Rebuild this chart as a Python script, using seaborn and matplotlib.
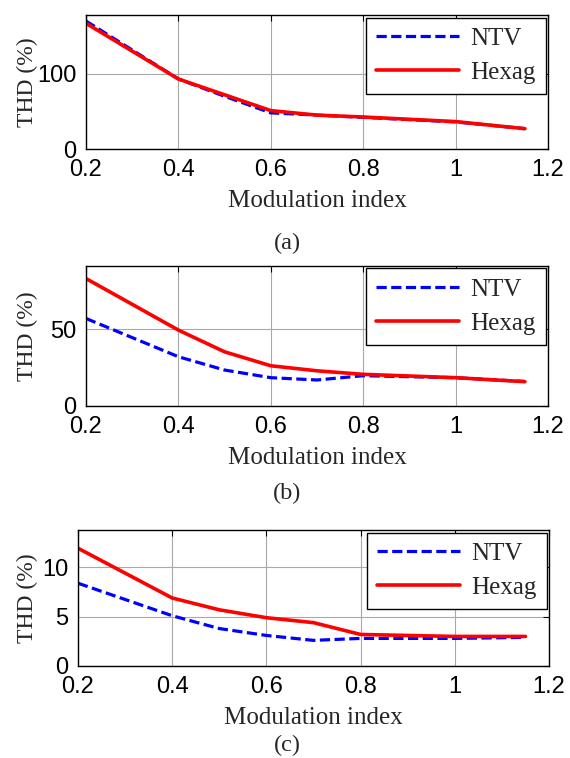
import numpy as np
import pandas as pd
import matplotlib
matplotlib.use('Agg')
import matplotlib.pyplot as plt
import seaborn as sns

# Modulation index sample points
m_index = [0.2, 0.4, 0.5, 0.6, 0.7, 0.8, 1.0, 1.15]

# THD values (%)
ntv_a = [170, 93, 70, 48, 45, 42, 36, 27]
hex_a = [167, 93, 72, 51, 45, 42.5, 36.4, 27]

ntv_b = [57.2, 32.2, 23.5, 18.5, 17.0, 19.8, 18.5, 16.0]
hex_b = [83.3, 49.6, 35.4, 26.3, 23.0, 20.7, 18.5, 15.9]

ntv_c = [8.4, 5.1, 3.8, 3.1, 2.6, 2.8, 2.8, 2.9]
hex_c = [11.95, 6.9, 5.7, 4.9, 4.4, 3.2, 3.0, 3.0]

xticks = [0.2, 0.4, 0.6, 0.8, 1.0, 1.2]
xticklabels = ['0.2', '0.4', '0.6', '0.8', '1', '1.2']

W, H = 570, 758

# axes boxes in pixels: left, right, top, bottom
panels = [
    dict(ntv=ntv_a, hexag=hex_a, ylim=(0, 178), yticks=[0, 100], cap='(a)',
         box=(86, 548, 15, 149), cap_y=243),
    dict(ntv=ntv_b, hexag=hex_b, ylim=(0, 91.5), yticks=[0, 50], cap='(b)',
         box=(86, 548, 266, 406), cap_y=493),
    dict(ntv=ntv_c, hexag=hex_c, ylim=(0, 13.8), yticks=[0, 5, 10], cap='(c)',
         box=(78, 549, 530, 666), cap_y=745),
]

sns.set_style('white')
plt.rcParams['font.family'] = ['Liberation Serif', 'DejaVu Serif']

serif = 'Liberation Serif'
sans = 'Liberation Sans'

fig = plt.figure(figsize=(W / 100, H / 100), dpi=100)

for p in panels:
    l, r, t, b = p['box']
    ax = fig.add_axes([l / W, 1 - b / H, (r - l) / W, (b - t) / H])
    df = pd.DataFrame({'m': m_index, 'NTV': p['ntv'], 'Hexag': p['hexag']})
    sns.lineplot(data=df, x='m', y='NTV', ax=ax, color='#0000ff', lw=2.3, label='NTV')
    sns.lineplot(data=df, x='m', y='Hexag', ax=ax, color='#ff0000', lw=2.6, label='Hexag')
    ax.lines[0].set_dashes((3.2, 1.4))

    ax.set_xlim(0.2, 1.2)
    ax.set_ylim(*p['ylim'])
    ax.set_xticks(xticks)
    ax.set_xticklabels(xticklabels, fontfamily=sans, fontsize=17)
    ax.set_yticks(p['yticks'])
    ax.set_yticklabels([str(v) for v in p['yticks']], fontfamily=sans, fontsize=17)
    ax.tick_params(direction='in', length=4, width=0.8, top=True, right=True,
                   colors='black')
    ax.tick_params(axis='x', pad=7)
    ax.tick_params(axis='y', pad=7)
    ax.grid(True, color='#a8a8a8', lw=0.8)
    for s in ax.spines.values():
        s.set_color('black')
        s.set_linewidth(1.0)

    ax.set_xlabel('Modulation index', fontfamily=serif, fontsize=18, labelpad=7)
    ax.set_ylabel('THD (%)', fontfamily=serif, fontsize=17)
    ax.yaxis.set_label_coords((27 - l) / (r - l), 0.5)
    ax.yaxis.label.set_va('center')

    leg = ax.legend(loc='upper right', prop={'family': serif, 'size': 18},
                    frameon=True, fancybox=False, borderaxespad=0.1,
                    handlelength=3.3, handletextpad=0.45, labelspacing=0.45,
                    borderpad=0.4)
    leg.get_frame().set_edgecolor('black')
    leg.get_frame().set_linewidth(1.0)
    leg.get_frame().set_alpha(1)

    fig.text(287 / W, 1 - p['cap_y'] / H, p['cap'], ha='center', va='center',
             fontfamily=serif, fontsize=17.5)

fig.savefig('out.png', dpi=100)
